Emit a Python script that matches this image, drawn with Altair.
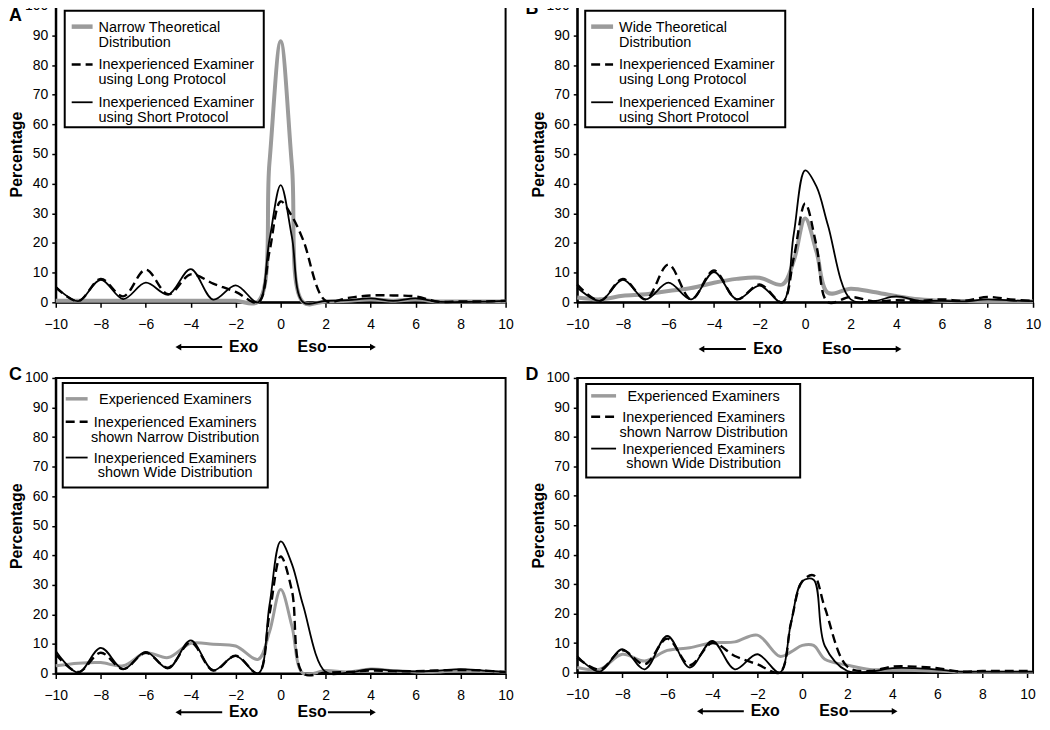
import altair as alt
import pandas as pd

# ---------------- data ----------------
X = [-10, -9, -8, -7, -6, -5, -4, -3, -2, -1, -0.5, 0, 0.5, 1, 2, 3, 4, 5, 6, 7, 8, 9, 10]
X_D = X + [10.25]

# Panel A
A_narrow = [0.5, 0.5, 0.5, 0.5, 0.5, 0.5, 0.5, 0.5, 0.5, 0.3, 47, 88, 46, 0, 0.3, 0.5, 1, 0.5, 1, 0.3, 0.3, 0.3, 0.3]
A_long = [5, 0.4, 7.9, 2, 11, 2.7, 9.4, 6.3, 3.5, 0, 17, 34, 29, 21, 0.5, 1.5, 2.3, 2.3, 2, 0.2, 0.3, 0.3, 0.5]
A_short = [5.3, 0.4, 7.6, 1.1, 6.6, 2.6, 11.2, 0.9, 5.7, 0, 21, 39.5, 22, 0, 0.5, 0.7, 1.3, 0.5, 1.3, 0.2, 0.1, 0.2, 0.5]

# Panel B
B_wide = [1.6, 1, 2.2, 2.7, 3.8, 4.8, 6.6, 7.9, 8.3, 6, 14, 28.3, 17, 3.2, 4.6, 3.5, 2.1, 1, 0.5, 0.4, 0.3, 0.3, 0.3]
B_long = [6, 0.5, 7.9, 1, 12.7, 1, 10.7, 1, 6, 0, 15, 33.3, 19, 0, 1.8, 0.3, 0.7, 0.5, 1, 0.5, 1.8, 1, 0.5]
B_short = [5, 0.5, 7.6, 1, 6.6, 1, 10.2, 1, 5.6, 0, 23, 44.5, 39, 26, 1, 0.4, 2, 0.5, 0.5, 0.3, 1, 0.6, 0.4]

# Panel C
C_exp = [2.6, 3.5, 3.7, 2.6, 7, 5.4, 10.2, 9.9, 9.3, 4.8, 14, 28.4, 16, 0, 1, 0.5, 1.5, 1, 0.5, 0.5, 1, 0.8, 0.5]
C_narrow = [6.5, 0.5, 7, 1.5, 7, 2, 10.5, 1, 6, 0, 20, 39.6, 28, 0, 0.3, 0.5, 1, 0.8, 0.8, 1, 1.2, 1, 0.5]
C_wide = [7.6, 0.3, 8.7, 1.5, 7.3, 1.7, 11.2, 1.1, 6, 0, 23, 44.7, 37, 23, 0.5, 0.3, 1.5, 1, 0.7, 1, 1.5, 1, 0.5]

# Panel D
D_exp = [1.7, 1.1, 6.2, 3.9, 7.5, 8.4, 10.1, 10.4, 12.7, 5.5, 7, 9.2, 9.2, 4.5, 2.5, 1, 1, 0.7, 0.5, 0.1, 0.1, 0.1, 0.1, 0.1]
D_narrow = [5, 1, 7.5, 2.8, 11.5, 2.5, 10, 5.6, 2.8, 0, 17, 31, 33, 22, 2, 0.5, 2, 2, 1.5, 0.3, 0.5, 0.5, 0.5, 0.5]
D_wide = [5.6, 0.3, 7.9, 1.1, 12.4, 1.7, 10.7, 1.1, 6.2, 0, 17, 31, 31.5, 9, 0.5, 0.3, 1.5, 1.5, 1, 0.3, 0.3, 0.3, 0.3, 0.3]

X_TICKS = [-10, -8, -6, -4, -2, 0, 2, 4, 6, 8, 10]
Y_TICKS = [0, 10, 20, 30, 40, 50, 60, 70, 80, 90, 100]

LEG_AB_1 = {"A": ["Narrow Theoretical", "Distribution"], "B": ["Wide Theoretical", "Distribution"]}
LEG_AB_2 = ["Inexperienced Examiner", "using Long Protocol"]
LEG_AB_3 = ["Inexperienced Examiner", "using Short Protocol"]
LEG_CD_1 = ["Experienced Examiners"]
LEG_CD_2 = ["Inexperienced Examiners", "shown Narrow Distribution"]
LEG_CD_3 = ["Inexperienced Examiners", "shown Wide Distribution"]

EXO_ARROW = [-4.55, -2.6]
ESO_ARROW = [2.1, 4.1]
EXO_TEXT_X = -1.0
ESO_TEXT_X = 0.75

# ---------------- styling ----------------
FONT = "Liberation Sans"
GRAY = "#9b9b9b"
ONE = pd.DataFrame({"k": [0]})


def line_style(kind, gray_w):
    if kind == "gray":
        return dict(color=GRAY, strokeWidth=gray_w)
    if kind == "dash":
        return dict(color="black", strokeWidth=2.4, strokeDash=[9, 5])
    return dict(color="black", strokeWidth=1.8)


def panel(letter, letter_x, letter_y, xs, series, legend_entries, w, h, xmax,
          box, sample_x, text_x, text_align, entry_y, gray_w, ann_off):
    xenc = alt.X("x:Q", scale=alt.Scale(domain=[-10, xmax], nice=False, zero=False),
                 axis=alt.Axis(values=X_TICKS, title=None, tickSize=5, labelPadding=10,
                               labelFlush=False, grid=False))
    yenc = alt.Y("y:Q", scale=alt.Scale(domain=[0, 100], nice=False),
                 axis=alt.Axis(values=Y_TICKS, title="Percentage", tickSize=4, labelPadding=4,
                               labelFlush=False, titleX=-31, titleY=h / 2, grid=False))
    layers = []
    for vals, kind in series:
        df = pd.DataFrame({"x": xs, "y": vals})
        layers.append(alt.Chart(df).mark_line(interpolate="catmull-rom", **line_style(kind, gray_w))
                      .encode(x=xenc, y=yenc))

    ay = h + ann_off
    # Exo / Eso arrows
    arr = pd.DataFrame({"x": [EXO_ARROW[0], ESO_ARROW[0]], "x2": [EXO_ARROW[1], ESO_ARROW[1]]})
    layers.append(alt.Chart(arr).mark_rule(color="black", strokeWidth=2)
                  .encode(x=xenc, x2="x2:Q", y=alt.value(ay)))
    layers.append(alt.Chart(pd.DataFrame({"x": [EXO_ARROW[0]]}))
                  .mark_point(shape="triangle-left", filled=True, size=45, color="black", opacity=1)
                  .encode(x=xenc, y=alt.value(ay)))
    layers.append(alt.Chart(pd.DataFrame({"x": [ESO_ARROW[1]]}))
                  .mark_point(shape="triangle-right", filled=True, size=45, color="black", opacity=1)
                  .encode(x=xenc, y=alt.value(ay)))
    layers.append(alt.Chart(pd.DataFrame({"x": [EXO_TEXT_X], "t": ["Exo"]}))
                  .mark_text(align="right", baseline="middle", font=FONT, fontSize=16, fontWeight="bold", color="black")
                  .encode(x=xenc, y=alt.value(ay), text="t:N"))
    layers.append(alt.Chart(pd.DataFrame({"x": [ESO_TEXT_X], "t": ["Eso"]}))
                  .mark_text(align="left", baseline="middle", font=FONT, fontSize=16, fontWeight="bold", color="black")
                  .encode(x=xenc, y=alt.value(ay), text="t:N"))

    # panel letter
    layers.append(alt.Chart(ONE).mark_text(align="left", baseline="middle", font=FONT, fontSize=18,
                                           fontWeight="bold", color="black")
                  .encode(x=alt.value(letter_x), y=alt.value(letter_y), text=alt.value(letter)))

    # legend box
    layers.append(alt.Chart(ONE).mark_rect(fill="white", stroke="black", strokeWidth=2)
                  .encode(x=alt.value(box[0]), x2=alt.value(box[1]), y=alt.value(box[2]), y2=alt.value(box[3])))
    kinds = [k for _, k in series]
    for (lines, kind, ey) in zip(legend_entries, kinds, entry_y):
        st = line_style(kind, gray_w)
        if kind == "gray":
            st["strokeWidth"] = gray_w + 0.5
        layers.append(alt.Chart(ONE).mark_rule(**st)
                      .encode(x=alt.value(sample_x[0]), x2=alt.value(sample_x[1]), y=alt.value(ey)))
        layers.append(alt.Chart(ONE).mark_text(align=text_align, baseline="alphabetic", font=FONT,
                                               fontSize=14.5, lineHeight=15, color="black")
                      .encode(x=alt.value(text_x), y=alt.value(ey + 5), text=alt.value(lines)))

    return alt.layer(*layers).properties(width=w, height=h)


pA = panel("A", -47, 10, X, [(A_narrow, "gray"), (A_long, "dash"), (A_short, "solid")],
           [LEG_AB_1["A"], LEG_AB_2, LEG_AB_3], 452, 298, 10,
           (9, 209, 5, 122), (16, 37), 43, "left", [21, 59, 97], 4, 45)
pB = panel("B", -52, 3, X, [(B_wide, "gray"), (B_long, "dash"), (B_short, "solid")],
           [LEG_AB_1["B"], LEG_AB_2, LEG_AB_3], 458, 298, 10,
           (8, 209, 5, 122), (14, 36), 42, "left", [21, 59, 97], 4, 47)
pC = panel("C", -47, -3, X, [(C_exp, "gray"), (C_narrow, "dash"), (C_wide, "solid")],
           [LEG_CD_1, LEG_CD_2, LEG_CD_3], 452, 297, 10,
           (7, 213, 5, 110), (10, 32), 120, "center", [21, 44, 80], 3, 39)
pD = panel("D", -52, -3, X_D, [(D_exp, "gray"), (D_narrow, "dash"), (D_wide, "solid")],
           [LEG_CD_1, LEG_CD_2, LEG_CD_3], 458, 296, 10.25,
           (9, 224, 6, 100), (14, 39), 127, "center", [18, 39, 71], 3, 39)

chart = (alt.concat(pA, pB, pC, pD, columns=2, spacing={"row": 76, "column": 72}, bounds="flush")
         .properties(padding={"left": 0, "top": -12, "right": 0, "bottom": -2})
         .configure_view(stroke="black", strokeWidth=2)
         .configure_axis(labelFont=FONT, labelFontSize=14, labelColor="black",
                         titleFont=FONT, titleFontSize=16, titleFontWeight="bold", titleColor="black",
                         tickColor="black", tickWidth=1.5, domainColor="black", domainWidth=2))

chart.save("out.html", embed_options={"renderer": "svg", "actions": False})
